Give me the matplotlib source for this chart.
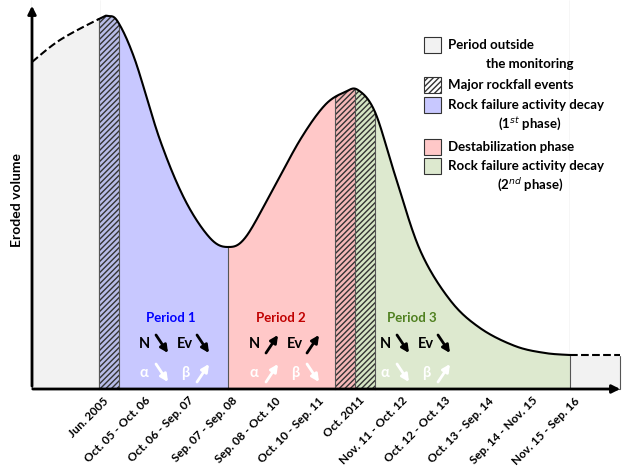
import numpy as np
import matplotlib
matplotlib.use("Agg")
import matplotlib.pyplot as plt
from matplotlib.patches import Rectangle, FancyArrowPatch

plt.rcParams['font.family'] = ['Lato', 'DejaVu Sans']
plt.rcParams['hatch.linewidth'] = 1.0

# conceptual curve (control points, pixel-like units, y down)
curve_x = [32, 60, 99, 108, 118, 135, 160, 185, 210, 228, 245, 270, 300, 325, 345, 358, 375, 395, 420, 450, 480, 515, 545, 570]
curve_y = [62, 40, 19, 16, 22, 60, 140, 200, 238, 247, 238, 195, 140, 105, 92, 90, 112, 175, 250, 300, 328, 346, 353, 355]
dash_end_x, dash_end_y = 620, 355

# date ticks
tick_x = [99, 141, 184, 228, 271, 314, 355, 398, 441, 484, 528, 570]
tick_labels = ["Jun. 2005", "Oct. 05 - Oct. 06", "Oct. 06 - Sep. 07", "Sep. 07 - Sep. 08",
               "Sep. 08 - Oct. 10", "Oct. 10 - Sep. 11", "Oct. 2011", "Nov. 11 - Oct. 12",
               "Oct. 12 - Oct. 13", "Oct. 13 - Sep. 14", "Sep. 14 - Nov. 15", "Nov. 15 - Sep. 16"]

# regions: (x0, x1, facecolor, hatched)
regions = [(32, 99, '#f2f2f2', False), (99, 119, '#b8bce8', True), (119, 228, '#c8c8ff', False),
           (228, 335, '#ffc8c8', False), (335, 355, '#f5b8b8', True), (355, 375, '#d5e5c4', True),
           (375, 570, '#dde9cf', False), (570, 620, '#f2f2f2', False)]

periods = ["Period 1", "Period 2", "Period 3"]
period_x = [171, 281, 412]
period_col = ['#0000ff', '#c00000', '#4f8020']
# arrow direction +1 up, -1 down for N, Ev, alpha, beta
dirs = [[-1, -1, -1, 1], [1, 1, 1, -1], [-1, -1, -1, 1]]

legend_items = [("Period outside\nthe monitoring", '#f2f2f2', False),
                ("Major rockfall events", 'white', True),
                ("Rock failure activity decay\n(1$^{st}$ phase)", '#c8c8ff', False),
                ("Destabilization phase", '#ffc8c8', False),
                ("Rock failure activity decay\n(2$^{nd}$ phase)", '#dde9cf', False)]
legend_y = [45, 85, 105, 147, 166]

base = 389


def catmull(xs, ys, n=30):
    p = np.column_stack([xs, ys]).astype(float)
    p = np.vstack([p[0], p, p[-1]])
    out = []
    for i in range(1, len(p) - 2):
        t = np.linspace(0, 1, n, endpoint=False)[:, None]
        p0, p1, p2, p3 = p[i - 1], p[i], p[i + 1], p[i + 2]
        out.append(0.5 * ((2 * p1) + (-p0 + p2) * t + (2 * p0 - 5 * p1 + 4 * p2 - p3) * t ** 2
                          + (-p0 + 3 * p1 - 3 * p2 + p3) * t ** 3))
    out.append(p[-2][None])
    return np.vstack(out)


fig = plt.figure(figsize=(6.24, 4.68), dpi=100)
ax = fig.add_axes([0, 0, 1, 1])
ax.set_xlim(0, 624)
ax.set_ylim(468, 0)
ax.axis('off')

c = catmull(curve_x, curve_y)
cx, cy = c[:, 0], c[:, 1]

for x0, x1, col, h in regions:
    if x0 < 99 or x0 >= 570:
        ax.add_patch(Rectangle((x0, 0), x1 - x0, base, fc=col, ec='#555555', lw=0.8, zorder=1))
        continue
    m = (cx >= x0) & (cx <= x1)
    xs = np.concatenate([[x0], cx[m], [x1]])
    ys = np.concatenate([[np.interp(x0, cx, cy)], cy[m], [np.interp(x1, cx, cy)]])
    ax.fill_between(xs, ys, base, facecolor=col, edgecolor='#333333' if h else 'none',
                    hatch='//////' if h else None, lw=0, zorder=1)
    ax.plot([x0, x0], [np.interp(x0, cx, cy), base], color='#555555', lw=0.8, zorder=2)

# cover gray rects above curve with white
m = cx <= 99
ax.fill_between(cx[m], 0, cy[m], color='white', zorder=1.5)
ax.fill_between([570, 621], 0, dash_end_y, color='white', zorder=1.5)

ax.plot(cx[cx <= 99], cy[cx <= 99], 'k--', lw=1.5, zorder=3)
ax.plot(cx[cx >= 99], cy[cx >= 99], 'k-', lw=1.5, zorder=3)
ax.plot([570, dash_end_x], [curve_y[-1], dash_end_y], 'k--', lw=1.5, zorder=3)

# axes arrows
ax.add_patch(FancyArrowPatch((32, base), (32, 3), arrowstyle='-|>', mutation_scale=12, lw=2, color='k', zorder=4))
ax.add_patch(FancyArrowPatch((30, base), (623, base), arrowstyle='-|>', mutation_scale=12, lw=2, color='k', zorder=4))
ax.text(17, 200, "Eroded volume", rotation=90, ha='center', va='center', fontsize=10, fontweight='bold')

for x, lab in zip(tick_x, tick_labels):
    ax.text(x + 4, base + 6, lab, rotation=45, ha='right', va='top', fontsize=8.5, fontweight='bold',
            rotation_mode='anchor')

for name, px, col, d in zip(periods, period_x, period_col, dirs):
    ax.text(px, 318, name, ha='center', va='center', color=col, fontsize=9.5, fontweight='bold')
    syms = ["N", "Ev", "α", "β"]
    xs = [px - 27, px + 14, px - 27, px + 14]
    ysym = [344, 344, 373, 373]
    for s, sx, sy, dd in zip(syms, xs, ysym, d):
        col2 = 'black' if sy < 360 else 'white'
        ax.text(sx, sy, s, ha='center', va='center', color=col2, fontsize=10.5, fontweight='bold', zorder=5)
        acx = sx + 18
        if dd < 0:
            start, end = (acx - 6, sy - 9), (acx + 6, sy + 9)
        else:
            start, end = (acx - 6, sy + 9), (acx + 6, sy - 9)
        ax.add_patch(FancyArrowPatch(start, end, arrowstyle='-|>', mutation_scale=11, lw=2,
                                     shrinkA=0, shrinkB=0, color=col2, zorder=5))

for (lab, col, h), y in zip(legend_items, legend_y):
    ax.add_patch(Rectangle((424, y - 8), 17, 16, fc=col, ec='#333333', lw=0.8,
                           hatch='//////' if h else None, zorder=4))
    first, *rest = lab.split("\n")
    ax.text(448, y, first, ha='left', va='center', fontsize=9.5, fontweight='bold')
    if rest:
        ax.text(530, y + 19, rest[0], ha='center', va='center', fontsize=9.5, fontweight='bold')

fig.savefig("out.png", dpi=100)
